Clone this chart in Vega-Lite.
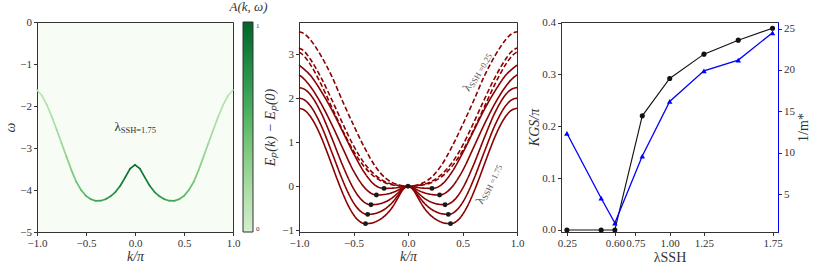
{
"$schema": "https://vega.github.io/schema/vega-lite/v6.json",
"background": "white",
"padding": {"left": 3, "top": 0, "right": 8, "bottom": 2},
"bounds": "flush",
"spacing": 66,
"datasets": {
"spectral": [
{"k":-1,"w":-1.62,"k2":-0.95,"w2":-1.75,"A":0.12},
{"k":-0.95,"w":-1.75,"k2":-0.9,"w2":-1.97,"A":0.14},
{"k":-0.9,"w":-1.97,"k2":-0.85,"w2":-2.25,"A":0.17},
{"k":-0.85,"w":-2.25,"k2":-0.8,"w2":-2.56,"A":0.2},
{"k":-0.8,"w":-2.56,"k2":-0.75,"w2":-2.88,"A":0.24},
{"k":-0.75,"w":-2.88,"k2":-0.7,"w2":-3.2,"A":0.28},
{"k":-0.7,"w":-3.2,"k2":-0.65,"w2":-3.52,"A":0.33},
{"k":-0.65,"w":-3.52,"k2":-0.6,"w2":-3.8,"A":0.39},
{"k":-0.6,"w":-3.8,"k2":-0.55,"w2":-4.0,"A":0.45},
{"k":-0.55,"w":-4.0,"k2":-0.5,"w2":-4.14,"A":0.5},
{"k":-0.5,"w":-4.14,"k2":-0.45,"w2":-4.22,"A":0.55},
{"k":-0.45,"w":-4.22,"k2":-0.4,"w2":-4.258,"A":0.6},
{"k":-0.4,"w":-4.258,"k2":-0.35,"w2":-4.255,"A":0.63},
{"k":-0.35,"w":-4.255,"k2":-0.3,"w2":-4.22,"A":0.66},
{"k":-0.3,"w":-4.22,"k2":-0.25,"w2":-4.15,"A":0.7},
{"k":-0.25,"w":-4.15,"k2":-0.2,"w2":-4.05,"A":0.75},
{"k":-0.2,"w":-4.05,"k2":-0.15,"w2":-3.9,"A":0.81},
{"k":-0.15,"w":-3.9,"k2":-0.1,"w2":-3.7,"A":0.87},
{"k":-0.1,"w":-3.7,"k2":-0.05,"w2":-3.49,"A":0.92},
{"k":-0.05,"w":-3.49,"k2":0,"w2":-3.4,"A":0.96},
{"k":0,"w":-3.4,"k2":0.05,"w2":-3.49,"A":0.96},
{"k":0.05,"w":-3.49,"k2":0.1,"w2":-3.7,"A":0.92},
{"k":0.1,"w":-3.7,"k2":0.15,"w2":-3.9,"A":0.87},
{"k":0.15,"w":-3.9,"k2":0.2,"w2":-4.05,"A":0.81},
{"k":0.2,"w":-4.05,"k2":0.25,"w2":-4.15,"A":0.75},
{"k":0.25,"w":-4.15,"k2":0.3,"w2":-4.22,"A":0.7},
{"k":0.3,"w":-4.22,"k2":0.35,"w2":-4.255,"A":0.66},
{"k":0.35,"w":-4.255,"k2":0.4,"w2":-4.258,"A":0.63},
{"k":0.4,"w":-4.258,"k2":0.45,"w2":-4.22,"A":0.6},
{"k":0.45,"w":-4.22,"k2":0.5,"w2":-4.14,"A":0.55},
{"k":0.5,"w":-4.14,"k2":0.55,"w2":-4.0,"A":0.5},
{"k":0.55,"w":-4.0,"k2":0.6,"w2":-3.8,"A":0.45},
{"k":0.6,"w":-3.8,"k2":0.65,"w2":-3.52,"A":0.39},
{"k":0.65,"w":-3.52,"k2":0.7,"w2":-3.2,"A":0.33},
{"k":0.7,"w":-3.2,"k2":0.75,"w2":-2.88,"A":0.28},
{"k":0.75,"w":-2.88,"k2":0.8,"w2":-2.56,"A":0.24},
{"k":0.8,"w":-2.56,"k2":0.85,"w2":-2.25,"A":0.2},
{"k":0.85,"w":-2.25,"k2":0.9,"w2":-1.97,"A":0.17},
{"k":0.9,"w":-1.97,"k2":0.95,"w2":-1.75,"A":0.14},
{"k":0.95,"w":-1.75,"k2":1,"w2":-1.62,"A":0.12}
],
"leftlabel": [{"k":-0.146,"w":-2.51,"main":"λ","sub":"SSH=1.75"}],
"lab25": [{"k":0.555,"E":2.3,"main":"λ","sub":"SSH =0.25"}],
"lab175": [{"k":0.673,"E":-0.26,"main":"λ","sub":"SSH =1.75"}],
"curves": [
{"l":0.25,"s":"dashed","k":-1,"E":3.51},{"l":0.25,"s":"dashed","k":-0.95,"E":3.46},{"l":0.25,"s":"dashed","k":-0.9,"E":3.34},{"l":0.25,"s":"dashed","k":-0.8,"E":2.97},{"l":0.25,"s":"dashed","k":-0.7,"E":2.5},{"l":0.25,"s":"dashed","k":-0.6,"E":1.93},{"l":0.25,"s":"dashed","k":-0.5,"E":1.39},{"l":0.25,"s":"dashed","k":-0.4,"E":0.88},{"l":0.25,"s":"dashed","k":-0.3,"E":0.45},{"l":0.25,"s":"dashed","k":-0.2,"E":0.17},{"l":0.25,"s":"dashed","k":-0.1,"E":0.04},{"l":0.25,"s":"dashed","k":0,"E":0},{"l":0.25,"s":"dashed","k":0.1,"E":0.04},{"l":0.25,"s":"dashed","k":0.2,"E":0.17},{"l":0.25,"s":"dashed","k":0.3,"E":0.45},{"l":0.25,"s":"dashed","k":0.4,"E":0.88},{"l":0.25,"s":"dashed","k":0.5,"E":1.39},{"l":0.25,"s":"dashed","k":0.6,"E":1.93},{"l":0.25,"s":"dashed","k":0.7,"E":2.5},{"l":0.25,"s":"dashed","k":0.8,"E":2.97},{"l":0.25,"s":"dashed","k":0.9,"E":3.34},{"l":0.25,"s":"dashed","k":0.95,"E":3.46},{"l":0.25,"s":"dashed","k":1,"E":3.51},
{"l":0.5,"s":"dashed","k":-1,"E":3.14},{"l":0.5,"s":"dashed","k":-0.95,"E":3.06},{"l":0.5,"s":"dashed","k":-0.9,"E":2.9},{"l":0.5,"s":"dashed","k":-0.8,"E":2.48},{"l":0.5,"s":"dashed","k":-0.7,"E":1.97},{"l":0.5,"s":"dashed","k":-0.6,"E":1.43},{"l":0.5,"s":"dashed","k":-0.5,"E":0.92},{"l":0.5,"s":"dashed","k":-0.4,"E":0.52},{"l":0.5,"s":"dashed","k":-0.3,"E":0.25},{"l":0.5,"s":"dashed","k":-0.2,"E":0.09},{"l":0.5,"s":"dashed","k":-0.1,"E":0.02},{"l":0.5,"s":"dashed","k":0,"E":0},{"l":0.5,"s":"dashed","k":0.1,"E":0.02},{"l":0.5,"s":"dashed","k":0.2,"E":0.09},{"l":0.5,"s":"dashed","k":0.3,"E":0.25},{"l":0.5,"s":"dashed","k":0.4,"E":0.52},{"l":0.5,"s":"dashed","k":0.5,"E":0.92},{"l":0.5,"s":"dashed","k":0.6,"E":1.43},{"l":0.5,"s":"dashed","k":0.7,"E":1.97},{"l":0.5,"s":"dashed","k":0.8,"E":2.48},{"l":0.5,"s":"dashed","k":0.9,"E":2.9},{"l":0.5,"s":"dashed","k":0.95,"E":3.06},{"l":0.5,"s":"dashed","k":1,"E":3.14},
{"l":0.6,"s":"dashed","k":-1,"E":3.05},{"l":0.6,"s":"dashed","k":-0.95,"E":2.95},{"l":0.6,"s":"dashed","k":-0.9,"E":2.78},{"l":0.6,"s":"dashed","k":-0.8,"E":2.33},{"l":0.6,"s":"dashed","k":-0.7,"E":1.8},{"l":0.6,"s":"dashed","k":-0.6,"E":1.27},{"l":0.6,"s":"dashed","k":-0.5,"E":0.8},{"l":0.6,"s":"dashed","k":-0.4,"E":0.44},{"l":0.6,"s":"dashed","k":-0.3,"E":0.2},{"l":0.6,"s":"dashed","k":-0.2,"E":0.07},{"l":0.6,"s":"dashed","k":-0.1,"E":0.015},{"l":0.6,"s":"dashed","k":0,"E":0},{"l":0.6,"s":"dashed","k":0.1,"E":0.015},{"l":0.6,"s":"dashed","k":0.2,"E":0.07},{"l":0.6,"s":"dashed","k":0.3,"E":0.2},{"l":0.6,"s":"dashed","k":0.4,"E":0.44},{"l":0.6,"s":"dashed","k":0.5,"E":0.8},{"l":0.6,"s":"dashed","k":0.6,"E":1.27},{"l":0.6,"s":"dashed","k":0.7,"E":1.8},{"l":0.6,"s":"dashed","k":0.8,"E":2.33},{"l":0.6,"s":"dashed","k":0.9,"E":2.78},{"l":0.6,"s":"dashed","k":0.95,"E":2.95},{"l":0.6,"s":"dashed","k":1,"E":3.05},
{"l":0.8,"s":"solid","k":-1,"E":2.75},{"l":0.8,"s":"solid","k":-0.95,"E":2.65},{"l":0.8,"s":"solid","k":-0.9,"E":2.53},{"l":0.8,"s":"solid","k":-0.8,"E":2.17},{"l":0.8,"s":"solid","k":-0.7,"E":1.74},{"l":0.8,"s":"solid","k":-0.6,"E":1.243},{"l":0.8,"s":"solid","k":-0.5,"E":0.748},{"l":0.8,"s":"solid","k":-0.4,"E":0.31},{"l":0.8,"s":"solid","k":-0.3,"E":0.02},{"l":0.8,"s":"solid","k":-0.22,"E":-0.05},{"l":0.8,"s":"solid","k":-0.15,"E":-0.045},{"l":0.8,"s":"solid","k":-0.1,"E":-0.034},{"l":0.8,"s":"solid","k":-0.05,"E":-0.014},{"l":0.8,"s":"solid","k":0,"E":0},{"l":0.8,"s":"solid","k":0.05,"E":-0.014},{"l":0.8,"s":"solid","k":0.1,"E":-0.034},{"l":0.8,"s":"solid","k":0.15,"E":-0.045},{"l":0.8,"s":"solid","k":0.22,"E":-0.05},{"l":0.8,"s":"solid","k":0.3,"E":0.02},{"l":0.8,"s":"solid","k":0.4,"E":0.31},{"l":0.8,"s":"solid","k":0.5,"E":0.748},{"l":0.8,"s":"solid","k":0.6,"E":1.243},{"l":0.8,"s":"solid","k":0.7,"E":1.74},{"l":0.8,"s":"solid","k":0.8,"E":2.17},{"l":0.8,"s":"solid","k":0.9,"E":2.53},{"l":0.8,"s":"solid","k":0.95,"E":2.65},{"l":0.8,"s":"solid","k":1,"E":2.75},
{"l":1.0,"s":"solid","k":-1,"E":2.53},{"l":1.0,"s":"solid","k":-0.95,"E":2.426},{"l":1.0,"s":"solid","k":-0.9,"E":2.279},{"l":1.0,"s":"solid","k":-0.8,"E":1.888},{"l":1.0,"s":"solid","k":-0.7,"E":1.405},{"l":1.0,"s":"solid","k":-0.6,"E":0.87},{"l":1.0,"s":"solid","k":-0.5,"E":0.349},{"l":1.0,"s":"solid","k":-0.4,"E":-0.027},{"l":1.0,"s":"solid","k":-0.35,"E":-0.143},{"l":1.0,"s":"solid","k":-0.29,"E":-0.2},{"l":1.0,"s":"solid","k":-0.25,"E":-0.197},{"l":1.0,"s":"solid","k":-0.2,"E":-0.181},{"l":1.0,"s":"solid","k":-0.15,"E":-0.151},{"l":1.0,"s":"solid","k":-0.1,"E":-0.101},{"l":1.0,"s":"solid","k":-0.05,"E":-0.037},{"l":1.0,"s":"solid","k":0,"E":0},{"l":1.0,"s":"solid","k":0.05,"E":-0.037},{"l":1.0,"s":"solid","k":0.1,"E":-0.101},{"l":1.0,"s":"solid","k":0.15,"E":-0.151},{"l":1.0,"s":"solid","k":0.2,"E":-0.181},{"l":1.0,"s":"solid","k":0.25,"E":-0.197},{"l":1.0,"s":"solid","k":0.29,"E":-0.2},{"l":1.0,"s":"solid","k":0.35,"E":-0.143},{"l":1.0,"s":"solid","k":0.4,"E":-0.027},{"l":1.0,"s":"solid","k":0.5,"E":0.349},{"l":1.0,"s":"solid","k":0.6,"E":0.87},{"l":1.0,"s":"solid","k":0.7,"E":1.405},{"l":1.0,"s":"solid","k":0.8,"E":1.888},{"l":1.0,"s":"solid","k":0.9,"E":2.279},{"l":1.0,"s":"solid","k":0.95,"E":2.426},{"l":1.0,"s":"solid","k":1,"E":2.53},
{"l":1.25,"s":"solid","k":-1,"E":2.24},{"l":1.25,"s":"solid","k":-0.95,"E":2.203},{"l":1.25,"s":"solid","k":-0.9,"E":2.092},{"l":1.25,"s":"solid","k":-0.8,"E":1.682},{"l":1.25,"s":"solid","k":-0.7,"E":1.1},{"l":1.25,"s":"solid","k":-0.6,"E":0.475},{"l":1.25,"s":"solid","k":-0.5,"E":-0.053},{"l":1.25,"s":"solid","k":-0.45,"E":-0.242},{"l":1.25,"s":"solid","k":-0.4,"E":-0.366},{"l":1.25,"s":"solid","k":-0.34,"E":-0.42},{"l":1.25,"s":"solid","k":-0.3,"E":-0.416},{"l":1.25,"s":"solid","k":-0.25,"E":-0.393},{"l":1.25,"s":"solid","k":-0.2,"E":-0.347},{"l":1.25,"s":"solid","k":-0.15,"E":-0.275},{"l":1.25,"s":"solid","k":-0.1,"E":-0.172},{"l":1.25,"s":"solid","k":-0.05,"E":-0.059},{"l":1.25,"s":"solid","k":0,"E":0},{"l":1.25,"s":"solid","k":0.05,"E":-0.059},{"l":1.25,"s":"solid","k":0.1,"E":-0.172},{"l":1.25,"s":"solid","k":0.15,"E":-0.275},{"l":1.25,"s":"solid","k":0.2,"E":-0.347},{"l":1.25,"s":"solid","k":0.25,"E":-0.393},{"l":1.25,"s":"solid","k":0.3,"E":-0.416},{"l":1.25,"s":"solid","k":0.34,"E":-0.42},{"l":1.25,"s":"solid","k":0.4,"E":-0.366},{"l":1.25,"s":"solid","k":0.45,"E":-0.242},{"l":1.25,"s":"solid","k":0.5,"E":-0.053},{"l":1.25,"s":"solid","k":0.6,"E":0.475},{"l":1.25,"s":"solid","k":0.7,"E":1.1},{"l":1.25,"s":"solid","k":0.8,"E":1.682},{"l":1.25,"s":"solid","k":0.9,"E":2.092},{"l":1.25,"s":"solid","k":0.95,"E":2.203},{"l":1.25,"s":"solid","k":1,"E":2.24},
{"l":1.5,"s":"solid","k":-1,"E":2.0},{"l":1.5,"s":"solid","k":-0.95,"E":1.959},{"l":1.5,"s":"solid","k":-0.9,"E":1.839},{"l":1.5,"s":"solid","k":-0.8,"E":1.397},{"l":1.5,"s":"solid","k":-0.7,"E":0.779},{"l":1.5,"s":"solid","k":-0.6,"E":0.137},{"l":1.5,"s":"solid","k":-0.55,"E":-0.144},{"l":1.5,"s":"solid","k":-0.5,"E":-0.373},{"l":1.5,"s":"solid","k":-0.45,"E":-0.536},{"l":1.5,"s":"solid","k":-0.37,"E":-0.64},{"l":1.5,"s":"solid","k":-0.3,"E":-0.619},{"l":1.5,"s":"solid","k":-0.25,"E":-0.573},{"l":1.5,"s":"solid","k":-0.2,"E":-0.499},{"l":1.5,"s":"solid","k":-0.15,"E":-0.386},{"l":1.5,"s":"solid","k":-0.1,"E":-0.235},{"l":1.5,"s":"solid","k":-0.05,"E":-0.076},{"l":1.5,"s":"solid","k":0,"E":0},{"l":1.5,"s":"solid","k":0.05,"E":-0.076},{"l":1.5,"s":"solid","k":0.1,"E":-0.235},{"l":1.5,"s":"solid","k":0.15,"E":-0.386},{"l":1.5,"s":"solid","k":0.2,"E":-0.499},{"l":1.5,"s":"solid","k":0.25,"E":-0.573},{"l":1.5,"s":"solid","k":0.3,"E":-0.619},{"l":1.5,"s":"solid","k":0.37,"E":-0.64},{"l":1.5,"s":"solid","k":0.45,"E":-0.536},{"l":1.5,"s":"solid","k":0.5,"E":-0.373},{"l":1.5,"s":"solid","k":0.55,"E":-0.144},{"l":1.5,"s":"solid","k":0.6,"E":0.137},{"l":1.5,"s":"solid","k":0.7,"E":0.779},{"l":1.5,"s":"solid","k":0.8,"E":1.397},{"l":1.5,"s":"solid","k":0.9,"E":1.839},{"l":1.5,"s":"solid","k":0.95,"E":1.959},{"l":1.5,"s":"solid","k":1,"E":2.0},
{"l":1.75,"s":"solid","k":-1,"E":1.77},{"l":1.75,"s":"solid","k":-0.95,"E":1.727},{"l":1.75,"s":"solid","k":-0.9,"E":1.6},{"l":1.75,"s":"solid","k":-0.85,"E":1.397},{"l":1.75,"s":"solid","k":-0.8,"E":1.135},{"l":1.75,"s":"solid","k":-0.75,"E":0.825},{"l":1.75,"s":"solid","k":-0.7,"E":0.494},{"l":1.75,"s":"solid","k":-0.65,"E":0.159},{"l":1.75,"s":"solid","k":-0.6,"E":-0.155},{"l":1.75,"s":"solid","k":-0.55,"E":-0.43},{"l":1.75,"s":"solid","k":-0.5,"E":-0.645},{"l":1.75,"s":"solid","k":-0.45,"E":-0.788},{"l":1.75,"s":"solid","k":-0.39,"E":-0.85},{"l":1.75,"s":"solid","k":-0.35,"E":-0.845},{"l":1.75,"s":"solid","k":-0.3,"E":-0.81},{"l":1.75,"s":"solid","k":-0.25,"E":-0.745},{"l":1.75,"s":"solid","k":-0.2,"E":-0.645},{"l":1.75,"s":"solid","k":-0.15,"E":-0.5},{"l":1.75,"s":"solid","k":-0.1,"E":-0.3},{"l":1.75,"s":"solid","k":-0.05,"E":-0.09},{"l":1.75,"s":"solid","k":0,"E":0},{"l":1.75,"s":"solid","k":0.05,"E":-0.09},{"l":1.75,"s":"solid","k":0.1,"E":-0.3},{"l":1.75,"s":"solid","k":0.15,"E":-0.5},{"l":1.75,"s":"solid","k":0.2,"E":-0.645},{"l":1.75,"s":"solid","k":0.25,"E":-0.745},{"l":1.75,"s":"solid","k":0.3,"E":-0.81},{"l":1.75,"s":"solid","k":0.35,"E":-0.845},{"l":1.75,"s":"solid","k":0.39,"E":-0.85},{"l":1.75,"s":"solid","k":0.45,"E":-0.788},{"l":1.75,"s":"solid","k":0.5,"E":-0.645},{"l":1.75,"s":"solid","k":0.55,"E":-0.43},{"l":1.75,"s":"solid","k":0.6,"E":-0.155},{"l":1.75,"s":"solid","k":0.65,"E":0.159},{"l":1.75,"s":"solid","k":0.7,"E":0.494},{"l":1.75,"s":"solid","k":0.75,"E":0.825},{"l":1.75,"s":"solid","k":0.8,"E":1.135},{"l":1.75,"s":"solid","k":0.85,"E":1.397},{"l":1.75,"s":"solid","k":0.9,"E":1.6},{"l":1.75,"s":"solid","k":0.95,"E":1.727},{"l":1.75,"s":"solid","k":1,"E":1.77}
],
"dots": [
{"k":0,"E":0},
{"k":-0.22,"E":-0.05},{"k":0.22,"E":-0.05},
{"k":-0.29,"E":-0.2},{"k":0.29,"E":-0.2},
{"k":-0.34,"E":-0.42},{"k":0.34,"E":-0.42},
{"k":-0.37,"E":-0.64},{"k":0.37,"E":-0.64},
{"k":-0.39,"E":-0.85},{"k":0.39,"E":-0.85}
],
"kgs": [
{"lam":0.25,"K":0.0,"inv":12.35},
{"lam":0.5,"K":0.0,"inv":4.5},
{"lam":0.6,"K":0.0,"inv":1.5},
{"lam":0.8,"K":0.22,"inv":9.6},
{"lam":1.0,"K":0.292,"inv":16.2},
{"lam":1.25,"K":0.339,"inv":19.9},
{"lam":1.5,"K":0.366,"inv":21.2},
{"lam":1.75,"K":0.389,"inv":24.5}
]
},
"hconcat": [
{
"width": 196, "height": 210,
"view": {"fill": "#f7fcf5", "stroke": "#333"},
"title": {"text": "A(k, ω)", "anchor": "end", "frame": "group", "align": "center", "dx": 15.5, "offset": 2, "fontSize": 13, "fontStyle": "italic", "fontWeight": "normal", "font": "Liberation Serif", "color": "#333"},
"layer": [
{"data": {"name": "spectral"}, "mark": {"type": "rule", "strokeCap": "round", "strokeWidth": 1.7},
"encoding": {
"x": {"field": "k", "type": "quantitative", "scale": {"domain": [-1, 1], "nice": false, "zero": false}, "axis": {"values": [-1, -0.5, 0, 0.5, 1], "format": ".1f", "title": "k/π", "titleFontStyle": "italic", "titlePadding": 1}},
"x2": {"field": "k2"},
"y": {"field": "w", "type": "quantitative", "scale": {"domain": [-5, 0], "nice": false, "zero": false}, "axis": {"values": [-5, -4, -3, -2, -1, 0], "title": "ω", "titleFontStyle": "italic", "titlePadding": 2}},
"y2": {"field": "w2"},
"color": {"field": "A", "type": "quantitative", "scale": {"scheme": "greens", "domain": [0, 1]},
"legend": {"orient": "none", "legendX": 206, "legendY": 0, "direction": "vertical", "gradientLength": 210, "gradientThickness": 10, "title": null, "values": [0, 1], "format": ".0f", "labelFontSize": 7, "labelColor": "#333", "labelFont": "Liberation Serif", "gradientStrokeColor": "#333", "gradientStrokeWidth": 1, "labelOffset": 3, "padding": 0}}
}},
{"data": {"name": "leftlabel"}, "mark": {"type": "text", "align": "right", "baseline": "middle", "fontSize": 13, "color": "#333"},
"encoding": {"x": {"field": "k", "type": "quantitative"}, "y": {"field": "w", "type": "quantitative"}, "text": {"field": "main"}}},
{"data": {"name": "leftlabel"}, "mark": {"type": "text", "align": "left", "baseline": "middle", "fontSize": 8.5, "dy": 3, "color": "#333"},
"encoding": {"x": {"field": "k", "type": "quantitative"}, "y": {"field": "w", "type": "quantitative"}, "text": {"field": "sub"}}}
]
},
{
"bounds": "flush",
"spacing": 44,
"hconcat": [
{
"width": 218, "height": 210,
"layer": [
{"data": {"name": "curves"}, "mark": {"type": "line", "interpolate": "monotone", "strokeWidth": 1.6, "color": "#8b0000"},
"encoding": {
"x": {"field": "k", "type": "quantitative", "scale": {"domain": [-1, 1], "nice": false, "zero": false}, "axis": {"values": [-1, -0.5, 0, 0.5, 1], "format": ".1f", "title": "k/π", "titleFontStyle": "italic", "titlePadding": 1}},
"y": {"field": "E", "type": "quantitative", "scale": {"domain": [-1.04, 3.73], "nice": false, "zero": false}, "axis": {"values": [-1, 0, 1, 2, 3], "title": "Eₚ(k) − Eₚ(0)", "titleFontStyle": "italic", "titlePadding": 4}},
"detail": {"field": "l", "type": "nominal"},
"strokeDash": {"field": "s", "type": "nominal", "scale": {"domain": ["dashed", "solid"], "range": [[5, 2.5], [1, 0]]}, "legend": null}
}},
{"data": {"name": "dots"}, "mark": {"type": "circle", "size": 24, "color": "#1a1a1a", "opacity": 1},
"encoding": {"x": {"field": "k", "type": "quantitative"}, "y": {"field": "E", "type": "quantitative"}}},
{"data": {"name": "lab25"}, "mark": {"type": "text", "angle": 300, "align": "right", "baseline": "middle", "fontSize": 12, "color": "#555"},
"encoding": {"x": {"field": "k", "type": "quantitative"}, "y": {"field": "E", "type": "quantitative"}, "text": {"field": "main"}}},
{"data": {"name": "lab25"}, "mark": {"type": "text", "angle": 300, "align": "left", "baseline": "middle", "fontSize": 8.5, "dy": 3, "color": "#555"},
"encoding": {"x": {"field": "k", "type": "quantitative"}, "y": {"field": "E", "type": "quantitative"}, "text": {"field": "sub"}}},
{"data": {"name": "lab175"}, "mark": {"type": "text", "angle": 295, "align": "right", "baseline": "middle", "fontSize": 12, "color": "#555"},
"encoding": {"x": {"field": "k", "type": "quantitative"}, "y": {"field": "E", "type": "quantitative"}, "text": {"field": "main"}}},
{"data": {"name": "lab175"}, "mark": {"type": "text", "angle": 295, "align": "left", "baseline": "middle", "fontSize": 8.5, "dy": 3, "color": "#555"},
"encoding": {"x": {"field": "k", "type": "quantitative"}, "y": {"field": "E", "type": "quantitative"}, "text": {"field": "sub"}}}
]
},
{
"width": 217, "height": 210,
"data": {"name": "kgs"},
"layer": [
{"mark": {"type": "line", "color": "#111", "strokeWidth": 1.1, "point": {"filled": true, "size": 26, "color": "#111"}},
"encoding": {
"x": {"field": "lam", "type": "quantitative", "scale": {"domain": [0.207, 1.79], "nice": false, "zero": false}, "axis": {"values": [0.25, 0.6, 0.75, 1, 1.25, 1.75], "format": ".2f", "title": "λSSH", "titlePadding": 2}},
"y": {"field": "K", "type": "quantitative", "scale": {"domain": [-0.004, 0.401], "nice": false, "zero": false}, "axis": {"values": [0, 0.1, 0.2, 0.3, 0.4], "format": ".1f", "title": "KGS/π", "titleFontStyle": "italic", "titlePadding": 0}}
}},
{"mark": {"type": "line", "color": "#0000ff", "strokeWidth": 1.3, "point": {"filled": true, "shape": "triangle-up", "size": 30, "color": "#0000ff"}},
"encoding": {
"x": {"field": "lam", "type": "quantitative"},
"y": {"field": "inv", "type": "quantitative", "scale": {"domain": [0.42, 25.8], "nice": false, "zero": false}, "axis": {"orient": "right", "values": [5, 10, 15, 20, 25], "title": "1/m*", "domainColor": "#0000ff", "titleAngle": 270, "titleBaseline": "top", "titlePadding": 2}}
}}
],
"resolve": {"scale": {"y": "independent"}}
}
]
}
],
"config": {
"font": "Liberation Serif",
"view": {"stroke": "#333", "strokeWidth": 1},
"axis": {"grid": false, "labelFont": "Liberation Serif", "labelFontSize": 11, "labelColor": "#333", "labelFlush": false, "labelOverlap": false, "labelPadding": 2, "tickSize": 3.5, "tickColor": "#333", "tickWidth": 1, "domainColor": "#333", "domainWidth": 1, "titleFont": "Liberation Serif", "titleFontSize": 14, "titleFontWeight": "normal", "titleColor": "#333"}
}
}
